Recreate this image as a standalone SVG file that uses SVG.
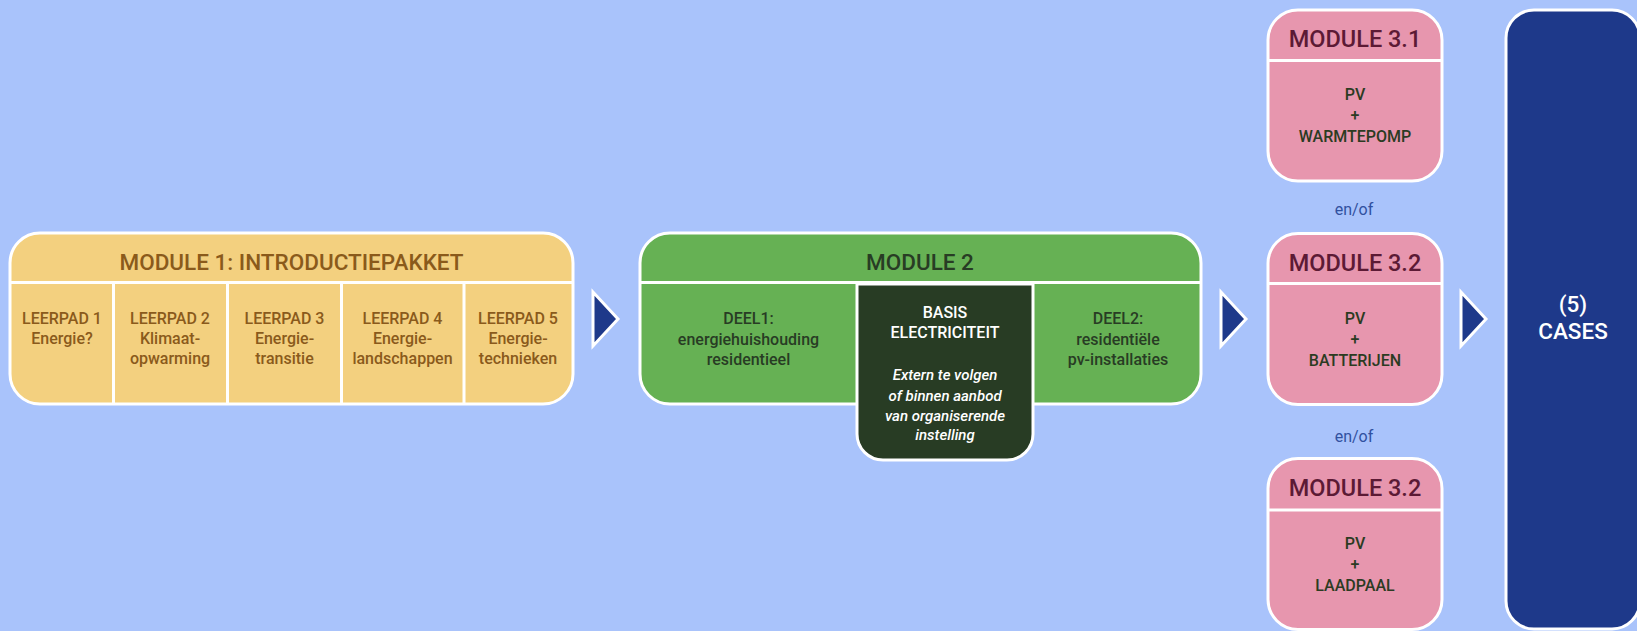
<svg xmlns="http://www.w3.org/2000/svg" width="1637" height="631" viewBox="0 0 1637 631">
<style>
text{font-family:Roboto,"Liberation Sans",sans-serif;text-anchor:middle;font-weight:500}
.box{stroke:#fff;stroke-width:3}
.sep{stroke:#fff;stroke-width:3;fill:none}
.y{fill:#F3D07F}
.g{fill:#66B154}
.dk{fill:#283C24}
.p{fill:#E796AE}
.n{fill:#1E398A}
.t1{fill:#8A5A1B;font-size:22.5px}
.b1{fill:#8A5A1B;font-size:16px}
.t2{fill:#283C24;font-size:22.5px}
.b2{fill:#283C24;font-size:16px}
.w{fill:#fff;font-size:16px}
.wi{fill:#fff;font-size:15px;font-style:italic}
.t3{fill:#5C1A35;font-size:23.5px}
.b3{fill:#2B3B22;font-size:16px}
.eo{fill:#3151A0;font-size:16px;font-weight:400}
.c{fill:#fff;font-size:22.5px}
.arr{fill:#1E398A;stroke:#fff;stroke-width:3;stroke-linejoin:miter}
</style>
<rect width="1637" height="631" fill="#A9C3FB"/>

<g id="module1">
<rect class="box y" x="10" y="233" width="563" height="171" rx="30"/>
<path class="sep" d="M10 282.5H573M113.5 282.5V404M227.5 282.5V404M341.5 282.5V404M464 282.5V404"/>
<text class="t1" x="291.5" y="270">MODULE 1: INTRODUCTIEPAKKET</text>
<text class="b1" x="62" y="324">LEERPAD 1</text>
<text class="b1" x="62" y="344">Energie?</text>
<text class="b1" x="170" y="324">LEERPAD 2</text>
<text class="b1" x="170" y="344">Klimaat-</text>
<text class="b1" x="170" y="364">opwarming</text>
<text class="b1" x="284.5" y="324">LEERPAD 3</text>
<text class="b1" x="284.5" y="344">Energie-</text>
<text class="b1" x="284.5" y="364">transitie</text>
<text class="b1" x="402.5" y="324">LEERPAD 4</text>
<text class="b1" x="402.5" y="344">Energie-</text>
<text class="b1" x="402.5" y="364">landschappen</text>
<text class="b1" x="518" y="324">LEERPAD 5</text>
<text class="b1" x="518" y="344">Energie-</text>
<text class="b1" x="518" y="364">technieken</text>
</g>

<g id="module2">
<rect class="box g" x="640" y="233" width="561" height="171" rx="30"/>
<path class="sep" d="M640 282.5H1201"/>
<text class="t2" x="920" y="270">MODULE 2</text>
<text class="b2" x="748.5" y="324">DEEL1:</text>
<text class="b2" x="748.5" y="344.5">energiehuishouding</text>
<text class="b2" x="748.5" y="365">residentieel</text>
<text class="b2" x="1118" y="324">DEEL2:</text>
<text class="b2" x="1118" y="344.5">residentiële</text>
<text class="b2" x="1118" y="365">pv-installaties</text>
</g>

<g id="basis">
<path class="box dk" d="M857 284H1033V434A26 26 0 0 1 1007 460H883A26 26 0 0 1 857 434Z"/>
<text class="w" x="945" y="317.5">BASIS</text>
<text class="w" x="945" y="338">ELECTRICITEIT</text>
<text class="wi" x="945" y="380">Extern te volgen</text>
<text class="wi" x="945" y="400.5">of binnen aanbod</text>
<text class="wi" x="945" y="420.5">van organiserende</text>
<text class="wi" x="945" y="440">instelling</text>
</g>

<g id="module31">
<rect class="box p" x="1268" y="10" width="174" height="171" rx="30"/>
<path class="sep" d="M1268 60.5H1442"/>
<text class="t3" x="1355" y="47">MODULE 3.1</text>
<text class="b3" x="1355" y="100">PV</text>
<text class="b3" x="1355" y="121">+</text>
<text class="b3" x="1355" y="142">WARMTEPOMP</text>
</g>
<text id="enof1" class="eo" x="1354" y="215">en/of</text>

<g id="module32a">
<rect class="box p" x="1268" y="233.5" width="174" height="171" rx="30"/>
<path class="sep" d="M1268 283.5H1442"/>
<text class="t3" x="1355" y="270.5">MODULE 3.2</text>
<text class="b3" x="1355" y="324">PV</text>
<text class="b3" x="1355" y="345">+</text>
<text class="b3" x="1355" y="366">BATTERIJEN</text>
</g>
<text id="enof2" class="eo" x="1354" y="442">en/of</text>

<g id="module32b">
<rect class="box p" x="1268" y="458.5" width="174" height="171" rx="30"/>
<path class="sep" d="M1268 510H1442"/>
<text class="t3" x="1355" y="496">MODULE 3.2</text>
<text class="b3" x="1355" y="549">PV</text>
<text class="b3" x="1355" y="570">+</text>
<text class="b3" x="1355" y="591">LAADPAAL</text>
</g>

<g id="cases">
<rect class="box n" x="1506" y="10" width="134" height="619" rx="28"/>
<text class="c" x="1573" y="312">(5)</text>
<text class="c" x="1573" y="339">CASES</text>
</g>

<g id="connectors">
<path class="arr" d="M593 292V346L618 319Z"/>
<path class="arr" d="M1221 292V346L1246 319Z"/>
<path class="arr" d="M1461 292V346L1486 319Z"/>
</g>
</svg>
